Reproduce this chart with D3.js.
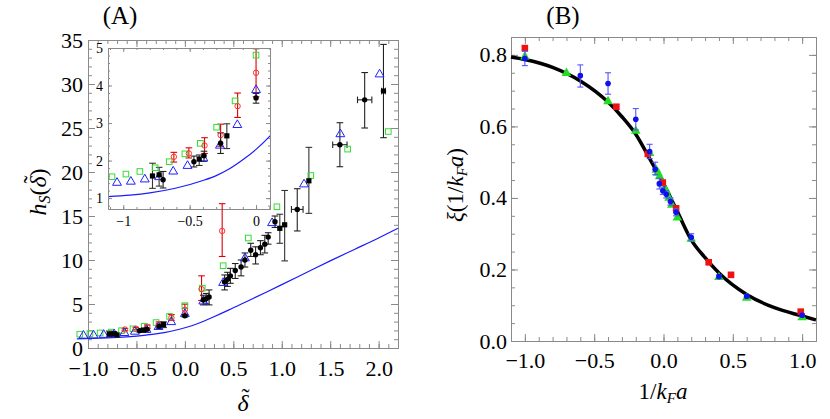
<!DOCTYPE html>
<html>
<head>
<meta charset="utf-8">
<script src="https://cdn.jsdelivr.net/npm/d3@7"></script>
<style>
  body { margin: 0; background: #fff; }
  text { font-family: "Liberation Serif", "Times New Roman", serif; }
</style>
</head>
<body>
<svg id="chart" width="830" height="419"></svg>
<script>
// ---- panel A data: [x, y, yLow, yHigh, xErr]
const blackCircles = [
  [-0.70, 1.49, 1.27, 1.71, 0], [-0.468, 1.97, 1.83, 2.12, 0], [-0.392, 2.13, 1.98, 2.25, 0],
  [-0.267, 2.46, 2.19, 2.74, 0], [0.0, 3.67, 3.53, 3.79, 0],
  [0.19, 5.45, 4.9, 6.0, 0], [0.22, 5.6, 5.0, 6.2, 0], [0.25, 5.8, 4.9, 6.6, 0],
  [0.41, 7.5, 6.6, 8.3, 0], [0.44, 7.8, 7.0, 8.6, 0], [0.47, 8.2, 7.35, 9.05, 0],
  [0.52, 8.8, 7.9, 9.6, 0], [0.58, 9.2, 8.2, 10.0, 0], [0.62, 10.0, 9.2, 10.8, 0],
  [0.68, 11.1, 10.4, 11.9, 0], [0.73, 10.6, 9.55, 11.5, 0], [0.78, 11.4, 10.6, 12.2, 0],
  [0.825, 11.8, 10.8, 12.8, 0], [0.86, 12.6, 11.8, 13.1, 0], [0.93, 14.35, 13.7, 15.0, 0],
  [1.16, 15.75, 13.3, 18.1, 0.06], [1.60, 23.1, 20.6, 25.6, 0.074],
  [1.856, 28.2, 25.0, 31.3, 0.074], [2.05, 29.2, 23.9, 34.5, 0.02]
];
const blackSquares = [
  [-0.78, 1.59, 1.26, 1.93, 0], [-0.73, 1.62, 1.32, 1.82, 0], [-0.428, 2.04, 1.87, 2.15, 0],
  [-0.22, 2.66, 2.32, 2.98, 0], [0.98, 13.6, 11.9, 15.2, 0], [1.03, 14.0, 9.9, 17.9, 0],
  [1.28, 19.0, 15.3, 22.8, 0]
];
const redCircles = [
  [-0.619, 2.10, 1.96, 2.22], [-0.506, 2.19, 2.07, 2.34], [-0.388, 2.40, 2.19, 2.61],
  [-0.267, 2.68, 2.38, 2.97], [-0.139, 3.45, 3.15, 3.80], [0.0, 4.34, 3.70, 4.98],
  [0.172, 6.7, 5.4, 8.2], [0.385, 13.3, 10.4, 16.4]
];
const greenSquares = [
  [-1.085, 1.57], [-0.98, 1.64], [-0.875, 1.71], [-0.76, 1.81], [-0.654, 1.97], [-0.536, 2.18],
  [-0.42, 2.46], [-0.297, 2.89], [-0.158, 3.59], [0.0, 4.81], [0.18, 6.8], [0.395, 9.35],
  [0.655, 12.5], [0.95, 16.05], [1.30, 19.6], [1.68, 22.6], [2.10, 24.6]
];
const blueTriangles = [
  [-1.047, 1.41], [-0.943, 1.44], [-0.838, 1.50], [-0.73, 1.56], [-0.624, 1.71], [-0.516, 1.86],
  [-0.397, 2.06], [-0.272, 2.40], [-0.141, 2.95], [0.0, 3.88], [0.19, 5.3], [0.395, 7.4],
  [0.62, 10.2], [0.90, 14.2], [1.23, 18.6], [1.605, 24.3], [2.01, 31.1]
];
const theoryA = [
  [-1.115, 1.04], [-0.95, 1.08], [-0.8, 1.14], [-0.6, 1.27], [-0.4, 1.47], [-0.3, 1.6],
  [-0.2, 1.78], [-0.1, 2.02], [0.0, 2.3], [0.1, 2.64], [0.2, 3.07], [0.3, 3.55], [0.45, 4.3],
  [0.65, 5.35], [0.85, 6.4], [1.0, 7.2], [1.25, 8.55], [1.5, 9.9], [1.75, 11.2], [2.0, 12.5], [2.2, 13.6]
];

// ---- panel B data
const redB = [[-1.0, 0.819], [-0.34, 0.655], [-0.113, 0.523], [-0.005, 0.443], [0.091, 0.371],
  [0.326, 0.22], [0.487, 0.185], [0.99, 0.082]];
const greenB = [[-1.0, 0.795], [-0.70, 0.749], [-0.40, 0.67], [-0.2, 0.587], [-0.1, 0.525],
  [-0.052, 0.478], [-0.04, 0.47], [-0.028, 0.46], [-0.01, 0.44], [0.02, 0.42], [0.04, 0.40],
  [0.06, 0.38], [0.1, 0.345], [0.2, 0.285], [0.4, 0.178], [0.6, 0.12], [1.0, 0.066]];
const blueB = [[-1.0, 0.79, 0.77, 0.81], [-0.60, 0.742, 0.71, 0.772], [-0.40, 0.72, 0.69, 0.75],
  [-0.20, 0.62, 0.59, 0.65], [-0.10, 0.53, 0.51, 0.55], [-0.06, 0.48, 0.465, 0.50],
  [-0.03, 0.44, 0.425, 0.455], [-0.005, 0.42, 0.41, 0.43], [0.02, 0.41, 0.40, 0.42],
  [0.05, 0.39, 0.38, 0.40], [0.09, 0.36, 0.35, 0.37], [0.2, 0.29, 0.28, 0.30],
  [0.4, 0.18, 0.175, 0.185], [0.6, 0.125, 0.12, 0.13], [1.0, 0.072, 0.068, 0.076]];
const curveB = [[-1.1, 0.794], [-1.0, 0.787], [-0.8, 0.765], [-0.6, 0.727], [-0.4, 0.668],
  [-0.3, 0.627], [-0.2, 0.578], [-0.1, 0.51], [0.0, 0.44], [0.1, 0.362], [0.2, 0.283],
  [0.3, 0.233], [0.4, 0.19], [0.6, 0.13], [0.8, 0.093], [1.0, 0.07], [1.1, 0.059]];

// ---- tick values
const ticksAx = [-1, -0.5, 0, 0.5, 1, 1.5, 2];
const ticksAy = [0, 5, 10, 15, 20, 25, 30, 35];
const ticksIx = [-1, -0.5, 0];
const ticksIy = [1, 2, 3, 4, 5];
const ticksBx = [-1, -0.5, 0, 0.5, 1];
const ticksBy = [0, 0.2, 0.4, 0.6, 0.8];

const svg = d3.select("#chart");
const grey = "#8a8a8a";

// scales
const xA = d3.scaleLinear().domain([-1, 2.2]).range([88, 398]);
const yA = d3.scaleLinear().domain([0, 35]).range([348, 40]);
const xI = d3.scaleLinear().domain([-1.115, 0.105]).range([108, 270]);
const yI = d3.scaleLinear().domain([0.71, 5]).range([209, 48]);
const xB = d3.scaleLinear().domain([-1.1, 1.1]).range([511, 816]);
const yB = d3.scaleLinear().domain([0, 0.85]).range([341, 37]);

function minorTicks(scale, step) {
  const [a, b] = scale.domain();
  const out = [];
  for (let v = Math.ceil(a / step - 1e-9) * step; v <= b + 1e-9; v += step) out.push(+v.toFixed(4));
  return out;
}

// frame with inward ticks on all four sides (Mathematica style)
function frame(x, y, o) {
  const [x0, x1] = x.range(), [y0, y1] = y.range();
  const g = svg.append("g");
  const sides = [
    [d3.axisBottom(x), `translate(0,${y0})`, o.xMajor, o.xMinor, o.fx, o.padX],
    [d3.axisTop(x), `translate(0,${y1})`, o.xMajor, o.xMinor, null, 0],
    [d3.axisLeft(y), `translate(${x0},0)`, o.yMajor, o.yMinor, o.fy, o.padY],
    [d3.axisRight(y), `translate(${x1},0)`, o.yMajor, o.yMinor, null, 0]
  ];
  sides.forEach(([ax, tr, major, minor, fmt, pad]) => {
    g.append("g").attr("transform", tr)
      .call(ax.tickValues(minor).tickSize(-o.min).tickSizeOuter(0).tickFormat(""));
    const ag = g.append("g").attr("transform", tr)
      .call(ax.tickValues(major).tickSize(-o.maj).tickSizeOuter(0)
        .tickPadding(pad).tickFormat(fmt ? fmt : ""));
    ag.attr("font-size", o.fs).attr("font-family", "Liberation Serif, serif");
  });
  g.selectAll("line, path").attr("stroke", grey).attr("stroke-width", 1);
  g.selectAll("text").attr("fill", "#000");
  return g;
}

function errorBars(g, data, x, y, color, cap) {
  const e = g.append("g").attr("stroke", color).attr("stroke-width", 1.1).attr("fill", "none");
  data.forEach(d => {
    e.append("line").attr("x1", x(d[0])).attr("x2", x(d[0])).attr("y1", y(d[2])).attr("y2", y(d[3]));
    [d[2], d[3]].forEach(v => e.append("line")
      .attr("x1", x(d[0]) - cap).attr("x2", x(d[0]) + cap).attr("y1", y(v)).attr("y2", y(v)));
    if (d[4]) {
      e.append("line").attr("x1", x(d[0] - d[4])).attr("x2", x(d[0] + d[4])).attr("y1", y(d[1])).attr("y2", y(d[1]));
      [d[0] - d[4], d[0] + d[4]].forEach(v => e.append("line")
        .attr("x1", x(v)).attr("x2", x(v)).attr("y1", y(d[1]) - cap).attr("y2", y(d[1]) + cap));
    }
  });
}

const tri = d3.symbol().type(d3.symbolTriangle);

function drawA(g, x, y) {
  g.append("path").datum(theoryA)
    .attr("d", d3.line().x(d => x(d[0])).y(d => y(d[1])).curve(d3.curveMonotoneX))
    .attr("fill", "none").attr("stroke", "#1a1aff").attr("stroke-width", 1.2);
  errorBars(g, redCircles, x, y, "#e00000", 3.3);
  errorBars(g, blackSquares, x, y, "#333", 3.3);
  errorBars(g, blackCircles, x, y, "#222", 3.3);
  g.selectAll(null).data(greenSquares).enter().append("rect")
    .attr("x", d => x(d[0]) - 2.8).attr("y", d => y(d[1]) - 2.8)
    .attr("width", 5.6).attr("height", 5.6)
    .attr("fill", "none").attr("stroke", "#33dd33").attr("stroke-width", 1);
  g.selectAll(null).data(blueTriangles).enter().append("path")
    .attr("d", tri.size(34))
    .attr("transform", d => `translate(${x(d[0])},${y(d[1])})`)
    .attr("fill", "none").attr("stroke", "#2020ff").attr("stroke-width", 1);
  g.selectAll(null).data(redCircles).enter().append("circle")
    .attr("cx", d => x(d[0])).attr("cy", d => y(d[1])).attr("r", 2.7)
    .attr("fill", "none").attr("stroke", "#ff3030").attr("stroke-width", 1);
  g.selectAll(null).data(blackSquares).enter().append("rect")
    .attr("x", d => x(d[0]) - 2.6).attr("y", d => y(d[1]) - 2.6)
    .attr("width", 5.2).attr("height", 5.2).attr("fill", "#000");
  g.selectAll(null).data(blackCircles).enter().append("circle")
    .attr("cx", d => x(d[0])).attr("cy", d => y(d[1])).attr("r", 2.7).attr("fill", "#000");
}

// ---------- panel A
const fmt1 = d3.format(".1f");
frame(xA, yA, {xMajor: ticksAx, xMinor: minorTicks(xA, 0.1), yMajor: ticksAy, yMinor: minorTicks(yA, 1),
  fx: fmt1, fy: d3.format("d"), padX: 12, padY: 5, maj: 7, min: 4, fs: 22});

// inset
svg.append("rect").attr("x", 108).attr("y", 48).attr("width", 162).attr("height", 161).attr("fill", "#fff");
svg.append("clipPath").attr("id", "clipI").append("rect")
  .attr("x", 108).attr("y", 48).attr("width", 162).attr("height", 161);
const gI = svg.append("g").attr("clip-path", "url(#clipI)");
drawA(gI, xI, yI);
frame(xI, yI, {xMajor: ticksIx, xMinor: minorTicks(xI, 0.1), yMajor: ticksIy, yMinor: minorTicks(yI, 0.2),
  fx: d3.format("~g"), fy: d3.format("d"), padX: 7, padY: 5, maj: 4, min: 2, fs: 14});

const gA = svg.append("g");
drawA(gA, xA, yA);

// ---------- panel B
frame(xB, yB, {xMajor: ticksBx, xMinor: minorTicks(xB, 0.1), yMajor: ticksBy, yMinor: minorTicks(yB, 0.05),
  fx: fmt1, fy: fmt1, padX: 11, padY: 4, maj: 7, min: 4, fs: 22});

const gB = svg.append("g");
gB.append("path").datum(curveB)
  .attr("d", d3.line().x(d => xB(d[0])).y(d => yB(d[1])).curve(d3.curveMonotoneX))
  .attr("fill", "none").attr("stroke", "#000").attr("stroke-width", 3.5);
gB.selectAll(null).data(greenB).enter().append("path")
  .attr("d", tri.size(40))
  .attr("transform", d => `translate(${xB(d[0])},${yB(d[1])})`)
  .attr("fill", "#22dd22");
gB.selectAll(null).data(redB).enter().append("rect")
  .attr("x", d => xB(d[0]) - 3.3).attr("y", d => yB(d[1]) - 3.3)
  .attr("width", 6.6).attr("height", 6.6).attr("fill", "#ee1111");
errorBars(gB, blueB, xB, yB, "#5555ff", 3);
gB.selectAll(null).data(blueB).enter().append("circle")
  .attr("cx", d => xB(d[0])).attr("cy", d => yB(d[1])).attr("r", 2.8).attr("fill", "#1010ee");

// ---------- titles and axis labels
svg.append("text").attr("x", 120).attr("y", 24).attr("text-anchor", "middle")
  .attr("font-size", 25).text("(A)");
svg.append("text").attr("x", 563).attr("y", 24).attr("text-anchor", "middle")
  .attr("font-size", 25).text("(B)");

// put a tilde over a character of a text element
function tildeOver(parent, textEl, idx, size) {
  const box = textEl.node().getExtentOfChar(idx);
  parent.append("text").attr("x", box.x + box.width / 2 + size * 0.1).attr("y", box.y + size * 0.62)
    .attr("text-anchor", "middle").attr("font-size", size).text("\u02dc");
}

const xlA = svg.append("text").attr("x", 243).attr("y", 411).attr("text-anchor", "middle")
  .attr("font-size", 24).attr("font-style", "italic").text("\u03b4");
tildeOver(svg, xlA, 0, 24);

const gYA = svg.append("g").attr("transform", "translate(46,192) rotate(-90)");
const ylA = gYA.append("text").attr("text-anchor", "middle").attr("font-size", 24);
ylA.append("tspan").attr("font-style", "italic").text("h");
ylA.append("tspan").attr("font-style", "italic").attr("font-size", 16).attr("dy", 4).text("S");
ylA.append("tspan").attr("dy", -4).text("(");
ylA.append("tspan").attr("font-style", "italic").text("\u03b4");
ylA.append("tspan").text(")");
tildeOver(gYA, ylA, 3, 24);

const xlB = svg.append("text").attr("x", 663).attr("y", 399)
  .attr("text-anchor", "middle").attr("font-size", 23);
xlB.append("tspan").text("1/");
xlB.append("tspan").attr("font-style", "italic").text("k");
xlB.append("tspan").attr("font-style", "italic").attr("font-size", 15).attr("dy", 4).text("F");
xlB.append("tspan").attr("font-style", "italic").attr("dy", -4).text("a");

const ylB = svg.append("text").attr("transform", "translate(463,185) rotate(-90)")
  .attr("text-anchor", "middle").attr("font-size", 23);
ylB.append("tspan").attr("font-style", "italic").text("\u03be");
ylB.append("tspan").text("(1/");
ylB.append("tspan").attr("font-style", "italic").text("k");
ylB.append("tspan").attr("font-style", "italic").attr("font-size", 15).attr("dy", 4).text("F");
ylB.append("tspan").attr("font-style", "italic").attr("dy", -4).text("a");
ylB.append("tspan").text(")");
</script>
</body>
</html>
